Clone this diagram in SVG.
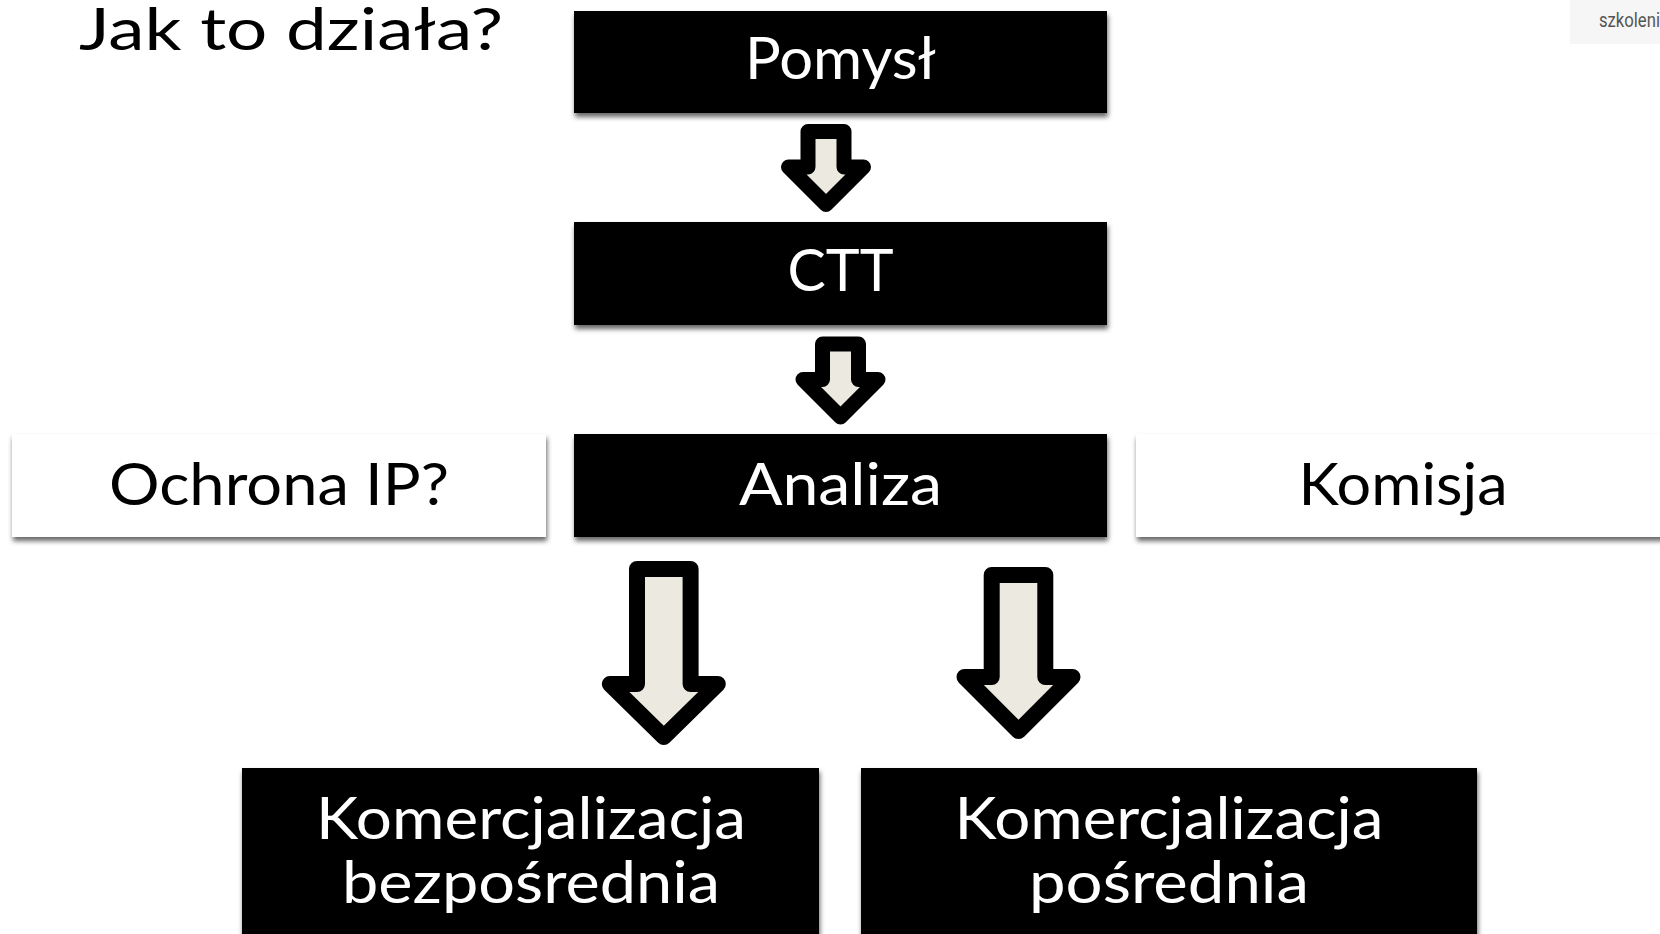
<svg xmlns="http://www.w3.org/2000/svg" width="1660" height="934" viewBox="0 0 1660 934">
  <defs>
    <filter id="shadow" x="-5%" y="-20%" width="110%" height="150%">
      <feDropShadow dx="1" dy="4" stdDeviation="2.5" flood-color="#000" flood-opacity="0.6"/>
    </filter>
    <style>
      .dark { fill: #000; filter: url(#shadow); }
      .light { fill: #fff; filter: url(#shadow); }
      .lbl { font-family: Lato, "Noto Sans", "DejaVu Sans", sans-serif; font-size: 58px; text-anchor: middle; }
      .w { fill: #fff; }
      .b { fill: #000; }
      .arrow { fill: #ECEAE0; stroke: #000; stroke-width: 15; stroke-linejoin: round; }
      .big { stroke-width: 16; }
    </style>
  </defs>
  <rect width="1660" height="934" fill="#fff"/>

  <g id="title">
    <text x="79" y="50" font-family="Lato, 'Noto Sans', sans-serif" font-size="59" fill="#000" textLength="424" lengthAdjust="spacingAndGlyphs">Jak to działa?</text>
  </g>

  <g id="watermark">
    <rect x="1570" y="0" width="90" height="44" fill="#f6f6f6"/>
    <text x="1599" y="27" font-family="Roboto, 'Noto Sans', sans-serif" font-size="20" fill="#555" textLength="70" lengthAdjust="spacingAndGlyphs">szkolenia</text>
  </g>

  <g id="connectors">
    <path class="arrow" d="M808,131.5 H844 V167 H863.5 L826,204.5 L788.5,167 H808 Z"/>
    <path class="arrow" transform="translate(14.5,212.5)" d="M808,131.5 H844 V167 H863.5 L826,204.5 L788.5,167 H808 Z"/>
    <path class="arrow big" d="M637,569 H690.6 V684 H717.8 L663.8,737 L609.8,684 H637 Z"/>
    <path class="arrow big" d="M991.7,575 H1045.3 V677 H1072.5 L1018.5,731 L964.5,677 H991.7 Z"/>
  </g>

  <g id="node-pomysl">
    <rect class="dark" x="574" y="11" width="533" height="102"/>
    <text class="lbl w" x="840.5" y="79" textLength="191" lengthAdjust="spacingAndGlyphs">Pomysł</text>
  </g>

  <g id="node-ctt">
    <rect class="dark" x="574" y="222" width="533" height="103"/>
    <text class="lbl w" x="840.5" y="291" textLength="106" lengthAdjust="spacingAndGlyphs">CTT</text>
  </g>

  <g id="node-analiza">
    <rect class="dark" x="574" y="434" width="533" height="103"/>
    <text class="lbl w" x="840.5" y="505" textLength="203" lengthAdjust="spacingAndGlyphs">Analiza</text>
  </g>

  <g id="node-ochrona">
    <rect class="light" x="12" y="434" width="534" height="103"/>
    <text class="lbl b" x="279" y="505" textLength="340" lengthAdjust="spacingAndGlyphs">Ochrona IP?</text>
  </g>

  <g id="node-komisja">
    <rect class="light" x="1136" y="434" width="540" height="103"/>
    <text class="lbl b" x="1403" y="505" textLength="209" lengthAdjust="spacingAndGlyphs">Komisja</text>
  </g>

  <g id="node-bezposrednia">
    <rect class="dark" x="242" y="768" width="577" height="180"/>
    <text class="lbl w" x="531" y="839" textLength="430" lengthAdjust="spacingAndGlyphs">Komercjalizacja</text>
    <text class="lbl w" x="531" y="903" textLength="378" lengthAdjust="spacingAndGlyphs">bezpośrednia</text>
  </g>

  <g id="node-posrednia">
    <rect class="dark" x="861" y="768" width="616" height="180"/>
    <text class="lbl w" x="1169" y="839" textLength="429" lengthAdjust="spacingAndGlyphs">Komercjalizacja</text>
    <text class="lbl w" x="1169" y="903" textLength="280" lengthAdjust="spacingAndGlyphs">pośrednia</text>
  </g>
</svg>
